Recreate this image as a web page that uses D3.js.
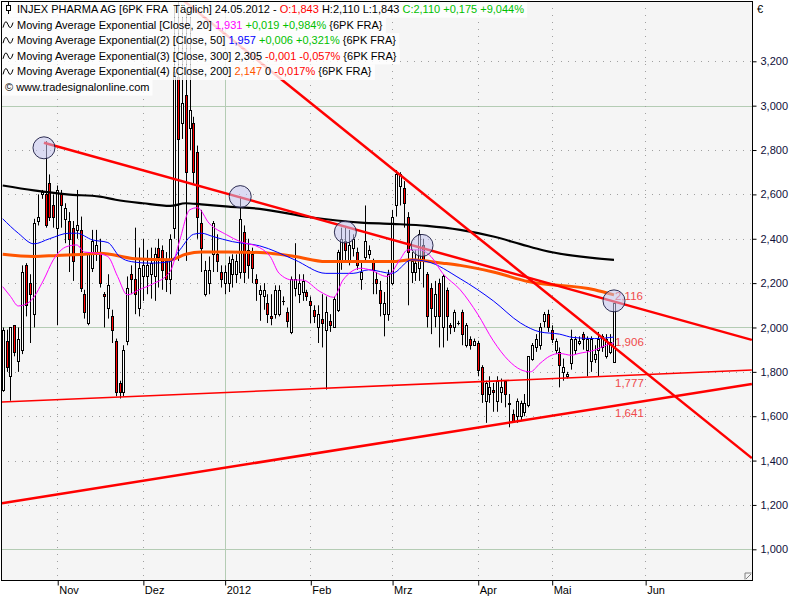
<!DOCTYPE html>
<html><head><meta charset="utf-8">
<script src="https://cdn.jsdelivr.net/npm/d3@7/dist/d3.min.js"></script>
<style>body{margin:0;background:#fff}svg{display:block}text{font-family:"Liberation Sans",Arial,sans-serif}</style>
</head><body><svg id="c" width="800" height="600"></svg>
<script>
// ---------- DATA ----------
const opens  = [1.72,1.94,1.78,2.01,1.85,1.90,2.28,2.20,2.06,2.48,2.60,2.60,2.65,2.55,2.45,2.60,2.49,2.48,2.45,2.44,2.44,2.15,2.02,2.27,2.34,2.34,2.15,2.09,2.05,1.94,1.75,1.71,1.94,2.24,2.22,2.09,2.23,2.23,2.24,2.23,2.36,2.35,2.30,2.22,2.45,3.13,2.92,3.05,2.90,2.92,2.79,2.47,2.15,2.20,2.33,2.33,2.25,2.20,2.20,2.24,2.24,2.25,2.43,2.35,2.33,2.22,2.15,2.14,2.11,2.053,2.06,2.06,2.12,2.07,1.98,2.18,2.15,2.16,2.16,2.12,2.08,2.00,2.04,1.99,2.03,2.00,2.08,2.30,2.39,2.30,2.36,2.34,2.22,2.32,2.33,2.30,2.22,2.17,2.06,2.06,2.20,2.55,2.64,2.63,2.50,2.25,2.25,2.27,2.37,2.24,2.18,2.05,2.20,2.00,2.17,2.012,2.00,2.02,2.07,1.92,1.95,1.92,1.93,1.82,1.67,1.70,1.72,1.67,1.71,1.76,1.66,1.61,1.60,1.60,1.62,1.65,1.86,1.91,1.92,2.03,2.06,1.99,1.90,1.89,1.80,1.78,1.84,1.90,1.93,1.97,1.90,1.85,1.86,1.90,1.91,1.87,1.89,1.843];
const highs  = [2.00,1.99,2.00,2.01,2.00,2.28,2.29,2.24,2.49,2.60,2.62,2.84,2.69,2.60,2.64,2.62,2.56,2.52,2.48,2.62,2.50,2.17,2.34,2.44,2.44,2.40,2.16,2.24,2.08,1.95,1.76,1.92,2.23,2.28,2.45,2.36,2.40,2.35,2.36,2.36,2.40,2.37,2.34,2.42,3.45,3.48,3.40,3.42,3.40,2.95,2.82,2.53,2.30,2.32,2.48,2.42,2.28,2.28,2.32,2.33,2.33,2.59,2.46,2.40,2.36,2.24,2.19,2.20,2.15,2.15,2.19,2.19,2.14,2.09,2.23,2.38,2.24,2.24,2.17,2.14,2.10,2.10,2.15,2.14,2.06,2.14,2.35,2.45,2.45,2.44,2.42,2.36,2.30,2.55,2.37,2.31,2.25,2.21,2.16,2.26,2.53,2.71,2.70,2.66,2.52,2.34,2.35,2.44,2.40,2.25,2.20,2.21,2.22,2.24,2.18,2.02,2.08,2.03,2.08,2.02,1.96,1.95,1.94,1.83,1.76,1.78,1.75,1.78,1.77,1.76,1.70,1.63,1.68,1.67,1.70,1.87,1.93,1.97,2.02,2.07,2.08,2.01,1.95,1.91,1.86,1.80,1.99,1.96,1.96,1.98,1.96,1.96,1.92,1.98,1.97,1.97,1.97,2.110];
const lows   = [1.71,1.80,1.67,1.87,1.80,1.88,2.05,1.93,2.00,2.46,2.58,2.45,2.48,2.45,2.01,2.45,2.38,2.25,2.21,2.40,2.16,2.04,2.01,2.25,2.30,2.18,2.00,2.04,1.93,1.69,1.68,1.69,1.92,2.15,2.06,2.05,2.12,2.15,2.13,2.12,2.18,2.17,2.16,2.15,2.40,2.30,2.85,2.30,2.80,2.65,2.40,2.25,2.14,2.15,2.25,2.25,2.18,2.15,2.16,2.18,2.20,2.22,2.20,2.22,2.20,2.12,2.03,2.08,2.02,2.01,2.04,2.05,2.10,2.00,1.97,2.14,2.11,2.12,2.12,2.02,2.02,1.93,1.91,1.72,1.98,2.00,2.07,2.26,2.30,2.28,2.32,2.26,2.17,2.30,2.31,2.15,2.15,2.05,1.96,2.03,2.19,2.50,2.55,2.45,2.10,2.20,2.21,2.21,2.18,2.00,1.97,2.00,1.91,1.91,1.94,1.97,1.98,2.01,1.92,1.91,1.90,1.92,1.78,1.66,1.57,1.66,1.62,1.62,1.66,1.64,1.55,1.57,1.57,1.58,1.60,1.64,1.85,1.89,1.90,2.00,1.98,1.93,1.88,1.73,1.76,1.77,1.81,1.88,1.92,1.90,1.78,1.80,1.84,1.78,1.89,1.86,1.88,1.843];
const closes = [1.99,1.82,2.00,1.89,1.95,2.25,2.10,2.15,2.47,2.50,2.61,2.46,2.50,2.50,2.62,2.55,2.54,2.40,2.30,2.46,2.18,2.07,2.33,2.39,2.37,2.20,2.14,2.19,1.99,1.71,1.71,1.90,2.18,2.22,2.15,2.27,2.28,2.28,2.29,2.33,2.32,2.26,2.22,2.40,3.15,2.85,3.01,2.70,2.98,2.70,2.50,2.36,2.26,2.26,2.47,2.30,2.22,2.25,2.29,2.31,2.30,2.49,2.25,2.28,2.27,2.20,2.17,2.17,2.06,2.043,2.17,2.17,2.12,2.03,2.22,2.22,2.20,2.21,2.14,2.10,2.05,2.06,2.02,2.07,2.01,2.13,2.34,2.40,2.35,2.37,2.40,2.28,2.25,2.39,2.35,2.26,2.20,2.11,2.11,2.24,2.50,2.69,2.69,2.56,2.34,2.30,2.29,2.42,2.31,2.05,2.09,2.15,2.05,2.23,2.05,2.00,2.07,2.02,1.97,2.01,1.92,1.94,1.81,1.70,1.75,1.73,1.71,1.76,1.73,1.70,1.655,1.58,1.67,1.66,1.66,1.87,1.92,1.95,2.00,2.06,2.00,1.95,1.94,1.83,1.82,1.79,1.95,1.95,1.94,1.95,1.95,1.95,1.88,1.95,1.96,1.95,1.935,2.110];

const monthLabels    = ["Nov","Dez","2012","Feb","Mrz","Apr","Mai","Jun"];
const monthStartBars = [14,36,57,79,100,122,141,165];
const yTickValues    = [1.0,1.2,1.4,1.6,1.8,2.0,2.2,2.4,2.6,2.8,3.0,3.2];

// moving averages: [bar index, value]
const ema20  = [[0,2.184],[2,2.14],[4,2.097],[7,2.117],[10.5,2.214],[13,2.305],[16.5,2.365],[19,2.372],[21,2.34],[24,2.335],[27,2.32],[29.5,2.23],[32,2.147],[35,2.17],[38.5,2.196],[43,2.252],[45.5,2.395],[48,2.53],[50,2.54],[53,2.47],[57.5,2.418],[61,2.387],[66,2.36],[68.7,2.32],[71,2.244],[74.5,2.214],[77,2.214],[81.5,2.162],[85,2.136],[87.4,2.214],[92,2.267],[94.3,2.26],[98.7,2.23],[102,2.305],[104,2.35],[107,2.35],[110,2.32],[113,2.244],[117.5,2.17],[122,2.06],[126,1.94],[130,1.85],[133,1.81],[135.5,1.80],[138,1.838],[140.5,1.871],[143,1.883],[146,1.875],[148,1.883],[152,1.898],[155,1.92],[157,1.931]];
const ema50  = [[0,2.49],[4,2.425],[8,2.377],[12,2.40],[17,2.425],[19,2.425],[23,2.395],[27,2.383],[30,2.32],[33,2.297],[38,2.29],[43,2.297],[45.5,2.35],[49,2.42],[51,2.425],[54,2.41],[59,2.387],[66,2.368],[75,2.305],[83,2.244],[90,2.244],[94,2.26],[100,2.244],[105,2.305],[109,2.297],[117.5,2.22],[126,2.12],[133,2.02],[138,1.98],[143,1.97],[146.5,1.955],[152,1.95],[157,1.957]];
const ema300 = [[0,2.64],[8,2.618],[16.5,2.60],[25,2.59],[29,2.576],[36,2.56],[43,2.548],[47,2.56],[51,2.555],[58,2.545],[66,2.535],[79,2.497],[92,2.473],[100,2.467],[109,2.458],[117.5,2.44],[126,2.41],[133,2.376],[139,2.347],[157,2.305]];
const ema200 = [[0,2.33],[8,2.32],[14,2.325],[21,2.33],[25,2.335],[34,2.31],[43,2.305],[47,2.33],[51,2.34],[58,2.34],[66,2.338],[75,2.32],[83,2.297],[92,2.297],[100,2.297],[105,2.305],[113,2.29],[117.5,2.28],[126,2.25],[135,2.207],[152,2.17],[157,2.147]];

// drawn trend lines: [barFrom, valueFrom, barTo, valueTo]
const trendLines = [[10.6,2.833,192.4,1.944],[46.0,3.48,192.4,1.411],[-0.2,1.664,192.4,1.808],[-0.2,1.208,192.4,1.745]];
const trendWidths = [2.5,2.5,1.6,2.5];
const markerPoints = [[10.6,2.81],[61.0,2.59],[88.0,2.43],[107.7,2.37],[157,2.12]];
const endLabels = [["2,116",2.116,-6],["1,906",1.906,-6],["1,777",1.777,6],["1,641",1.641,6]];

// ---------- CHART ----------
const svg = d3.select("#c");
const P = {l:1, r:752, t:1, b:580};
const x = d3.scaleLinear().domain([0,157]).range([2.7,614]);
const y = d3.scaleLinear().domain([1.0,3.2]).range([549.3,61.3]);

svg.append("rect").attr("width",800).attr("height",600).attr("fill","#fff");
svg.append("rect").attr("x",P.l).attr("y",P.t).attr("width",P.r-P.l).attr("height",P.b-P.t).attr("fill","#F5F5F5");
svg.append("defs").append("clipPath").attr("id","clip").append("rect")
  .attr("x",P.l).attr("y",P.t).attr("width",P.r-P.l).attr("height",P.b-P.t);

// grid
const grid = svg.append("g");
yTickValues.forEach(v=>{
  const yy = Math.round(y(v))+0.5, major = Math.abs(v-Math.round(v))<1e-6;
  grid.append("line").attr("x1",P.l).attr("x2",P.r).attr("y1",yy).attr("y2",yy)
    .attr("stroke", major ? "#B4CCB4" : "#A0A0A0").attr("stroke-width",1)
    .attr("stroke-dasharray", major ? null : "1,6");
});
monthStartBars.forEach((b,i)=>{
  const xx = Math.round(x(b))+0.5, major = monthLabels[i]==="2012";
  grid.append("line").attr("x1",xx).attr("x2",xx).attr("y1",P.t).attr("y2",P.b)
    .attr("stroke", major ? "#B4CCB4" : "#A0A0A0").attr("stroke-dasharray", major?null:"1,6");
});

const plot = svg.append("g").attr("clip-path","url(#clip)");

// candles
const bars = d3.range(opens.length).map(i=>({i,o:opens[i],h:highs[i],l:lows[i],c:closes[i]}));
const cg = plot.append("g");
bars.forEach(d=>{
  const cx = Math.round(x(d.i));
  cg.append("line").attr("x1",cx+0.5).attr("x2",cx+0.5).attr("y1",y(d.h)).attr("y2",y(d.l))
    .attr("stroke","#000").attr("stroke-width",1);
  const top = Math.round(y(Math.max(d.o,d.c))), bot = Math.round(y(Math.min(d.o,d.c)));
  cg.append("rect").attr("x",cx-0.5).attr("y",top+0.5).attr("width",2).attr("height",Math.max(bot-top,0.01))
    .attr("fill", d.c>=d.o ? "#fff" : "#FF0000").attr("stroke","#000").attr("stroke-width",1);
});

// moving averages (drawn over price)
const line = d3.line().x(d=>x(d[0])).y(d=>y(d[1])).curve(d3.curveMonotoneX);
plot.append("path").datum(ema300).attr("d",line).attr("fill","none").attr("stroke","#000").attr("stroke-width",2.2);
plot.append("path").datum(ema200).attr("d",line).attr("fill","none").attr("stroke","#FF5500").attr("stroke-width",3);
plot.append("path").datum(ema50).attr("d",line).attr("fill","none").attr("stroke","#0000FF").attr("stroke-width",1);
plot.append("path").datum(ema20).attr("d",line).attr("fill","none").attr("stroke","#FF00FF").attr("stroke-width",1);

// trend lines
trendLines.forEach((t,k)=>{
  plot.append("line").attr("x1",x(t[0])).attr("y1",y(t[1])).attr("x2",x(t[2])).attr("y2",y(t[3]))
    .attr("stroke","#FF0000").attr("stroke-width",trendWidths[k]);
});

// end labels
endLabels.forEach(l=>{
  plot.append("text").attr("x",x(157)+1).attr("y",y(l[1])+l[2]).attr("dy","0.35em")
    .attr("font-size","11.5px").attr("fill","#F04A4A").text(l[0]);
});

// markers
markerPoints.forEach(p=>{
  plot.append("circle").attr("cx",x(p[0])).attr("cy",y(p[1])).attr("r",11)
    .attr("fill","#C4C4EE").attr("fill-opacity",0.55).attr("stroke","#1A1A40").attr("stroke-width",0.9);
});

// axes
const fmt = v => d3.format(".3f")(v).replace(".",",");
const ya = svg.append("g").attr("transform",`translate(${P.r+0.5},0)`)
  .call(d3.axisRight(y).tickValues(yTickValues).tickFormat(fmt).tickSize(4).tickPadding(4));
ya.select(".domain").remove();
ya.selectAll("text").attr("font-size","11px").attr("fill","#10103A").style("font-family","'Liberation Sans',Arial,sans-serif");
ya.selectAll("line").attr("stroke","#000");
const xa = svg.append("g").attr("transform",`translate(0,${P.b+0.5})`)
  .call(d3.axisBottom(x).tickValues(monthStartBars).tickFormat((d,i)=>monthLabels[i]).tickSize(5));
xa.select(".domain").remove();
xa.selectAll(".tick line").attr("transform","translate(0.5,0)");
xa.selectAll("text").attr("text-anchor","start").attr("x",1.5).attr("y",6).attr("font-size","11px").attr("fill","#000")
  .style("font-family","'Liberation Sans',Arial,sans-serif");

// frame
svg.append("rect").attr("x",P.l+0.5).attr("y",P.t+0.5).attr("width",P.r-P.l).attr("height",P.b-P.t)
  .attr("fill","none").attr("stroke","#000");
svg.append("text").attr("x",757).attr("y",13).attr("font-size","11px").text("€");
// resize grip
svg.append("path").attr("d",`M${P.r-7},${P.b-0.5}L${P.r-7},${P.b-7}L${P.r-0.5},${P.b-7}M${P.r-6},${P.b-1}L${P.r-1},${P.b-6}`)
  .attr("fill","none").attr("stroke","#808080");

// legend
const legendRows = [
  [["INJEX PHARMA AG [6PK FRA  Täglich] 24.05.2012 - ","#000"],["O:1,843","#FF0000"],[" H:2,110 L:1,843 ","#000"],["C:2,110 +0,175 +9,044%","#00C000"]],
  [["Moving Average Exponential [Close, 20] ","#000"],["1,931","#FF00FF"],[" +0,019 +0,984%","#00C000"],[" {6PK FRA}","#000"]],
  [["Moving Average Exponential(2) [Close, 50] ","#000"],["1,957","#0000FF"],[" +0,006 +0,321%","#00C000"],[" {6PK FRA}","#000"]],
  [["Moving Average Exponential(3) [Close, 300] 2,305 ","#000"],["-0,001 -0,057%","#FF0000"],[" {6PK FRA}","#000"]],
  [["Moving Average Exponential(4) [Close, 200] ","#000"],["2,147","#FF5500"],[" 0 ","#000"],["-0,017%","#FF0000"],[" {6PK FRA}","#000"]],
  [["© www.tradesignalonline.com","#000"]]
];
const lg = svg.append("g");
legendRows.forEach((row,k)=>{
  const base = 13 + k*15.6;
  const rg = lg.append("g");
  const bg = rg.append("rect").attr("fill","#fff").attr("fill-opacity",0.82);
  const tx = k===5 ? 5 : 17;
  const t = rg.append("text").attr("x",tx).attr("y",base).attr("font-size","11px");
  row.forEach(s=>t.append("tspan").attr("fill",s[1]).text(s[0]));
  t.attr("xml:space","preserve").style("white-space","pre");
  const bb = t.node().getBBox();
  bg.attr("x",P.l+1).attr("y",base-11).attr("width",bb.x+bb.width+3-P.l-1).attr("height",15.6);
  if(k===0){
    rg.append("line").attr("x1",8.5).attr("x2",8.5).attr("y1",base-11).attr("y2",base+1).attr("stroke","#000");
    rg.append("rect").attr("x",6.5).attr("y",base-7.5).attr("width",4).attr("height",5).attr("fill","#fff").attr("stroke","#000");
  } else if(k<5){
    const yc = base-4;
    rg.append("path").attr("d",`M3,${yc+3}Q5.5,${yc-7} 8,${yc}T13,${yc-2}`).attr("fill","none").attr("stroke","#000").attr("stroke-width",1);
  }
});
</script></body></html>
